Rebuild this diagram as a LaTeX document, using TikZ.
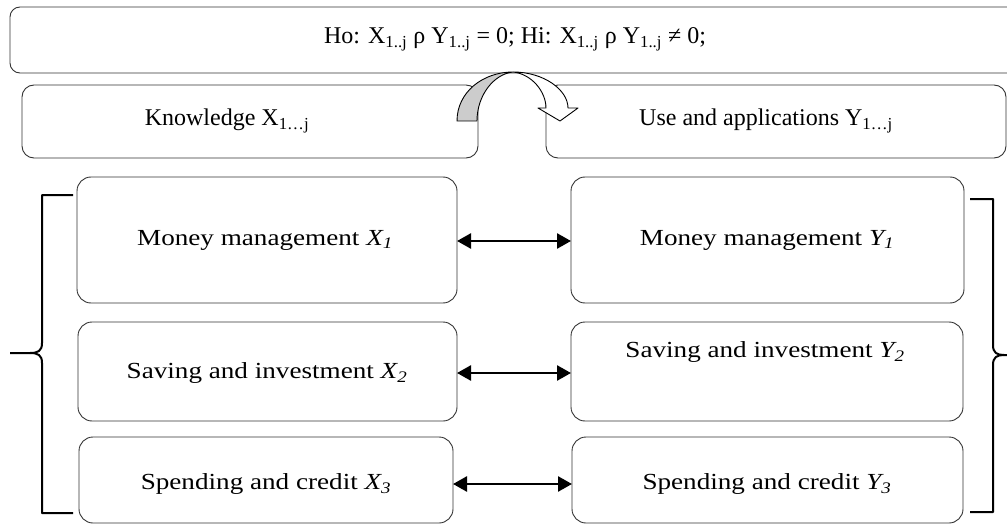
\documentclass[tikz,border=0pt]{standalone}
\usepackage{fontspec}
\setmainfont{Liberation Serif}
\newfontfamily\rowfont[FakeStretch=1.18]{Liberation Serif}
\usetikzlibrary{arrows.meta}
\tikzset{
  box/.style={draw=black!80, line width=0.9pt, rounded corners=14pt},
  lbl/.style={font=\fontsize{24}{28}\selectfont, inner sep=0pt, anchor=center},
  rlbl/.style={font=\rowfont\fontsize{23}{27}\selectfont, inner sep=0pt, anchor=center},
  dbl/.style={line width=2.6pt, {Triangle[length=14pt,width=15pt]}-{Triangle[length=14pt,width=15pt]}, shorten <=0pt, shorten >=0pt},
  brace/.style={line width=2pt, line join=round}
}
\begin{document}
\begin{tikzpicture}[x=1pt,y=-1pt]
\useasboundingbox (0,0) rectangle (1007,524);
% top box
\draw[box, rounded corners=10pt] (10,7) -- (1020,7) -- (1020,73) -- (10,73) -- cycle;
\node[lbl] (top) at (515,39) {Ho: X\textsubscript{1..j} ρ Y\textsubscript{1..j} = 0; Hi: X\textsubscript{1..j} ρ Y\textsubscript{1..j} ≠ 0;};
% knowledge / use boxes
\draw[box, rounded corners=12pt] (22,85) rectangle (478,158);
\node[lbl] (know) at (227,121) {Knowledge X\textsubscript{1…j}};
\draw[box, rounded corners=12pt] (546,85) rectangle (1006,158);
\node[lbl] (use) at (766,121) {Use and applications Y\textsubscript{1…j}};
% curved arrow
\fill[black!20] (457,121) .. controls (457,92) and (483,72) .. (513,72) .. controls (494,74) and (477,95) .. (477,121) -- cycle;
\draw[line width=0.9pt, line join=round] (457,121) .. controls (457,92) and (483,72) .. (513,72) .. controls (494,74) and (477,95) .. (477,121) -- cycle;
\draw[line width=0.9pt, line join=round, fill=white] (513,72) .. controls (544,72) and (568,90) .. (568,108) -- (578,108) -- (560,121) -- (538,108) -- (546,108) .. controls (546,92) and (532,74) .. (513,72);
% row boxes
\draw[box] (77,177) rectangle (457,303);
\draw[box] (571,177) rectangle (964,303);
\draw[box] (78,322) rectangle (457,421);
\draw[box] (571,322) rectangle (963,421);
\draw[box] (79,437) rectangle (453,523);
\draw[box] (572,437) rectangle (963,523);
\coordinate (l1) at (457,241); \coordinate (r1) at (571,241);
\coordinate (l2) at (457,373); \coordinate (r2) at (571,373);
\coordinate (l3) at (453,484); \coordinate (r3) at (572,484);
\node[rlbl] (a1) at (265,240) {Money management \textit{X\textsubscript{1}}};
\node[rlbl] (b1) at (767,240) {Money management \textit{Y\textsubscript{1}}};
\node[rlbl] (a2) at (267,373) {Saving and investment \textit{X\textsubscript{2}}};
\node[rlbl] (b2) at (765,352) {Saving and investment \textit{Y\textsubscript{2}}};
\node[rlbl] (a3) at (266,484) {Spending and credit \textit{X\textsubscript{3}}};
\node[rlbl] (b3) at (767,484) {Spending and credit \textit{Y\textsubscript{3}}};
\draw[dbl] (l1) -- (r1);
\draw[dbl] (l2) -- (r2);
\draw[dbl] (l3) -- (r3);
% braces
\draw[brace] (73,195) -- (42,195) -- (42,343) .. controls (42,351) and (38,353) .. (30,353) -- (10,353);
\draw[brace] (30,353) .. controls (38,353) and (42,355) .. (42,363) -- (42,513) -- (73,513);
\draw[brace] (970,199) -- (993,199) -- (993,345) .. controls (993,353) and (997,355) .. (1004,355) -- (1010,355);
\draw[brace] (1004,355) .. controls (997,355) and (993,357) .. (993,365) -- (993,512) -- (970,512);
\end{tikzpicture}
\end{document}
